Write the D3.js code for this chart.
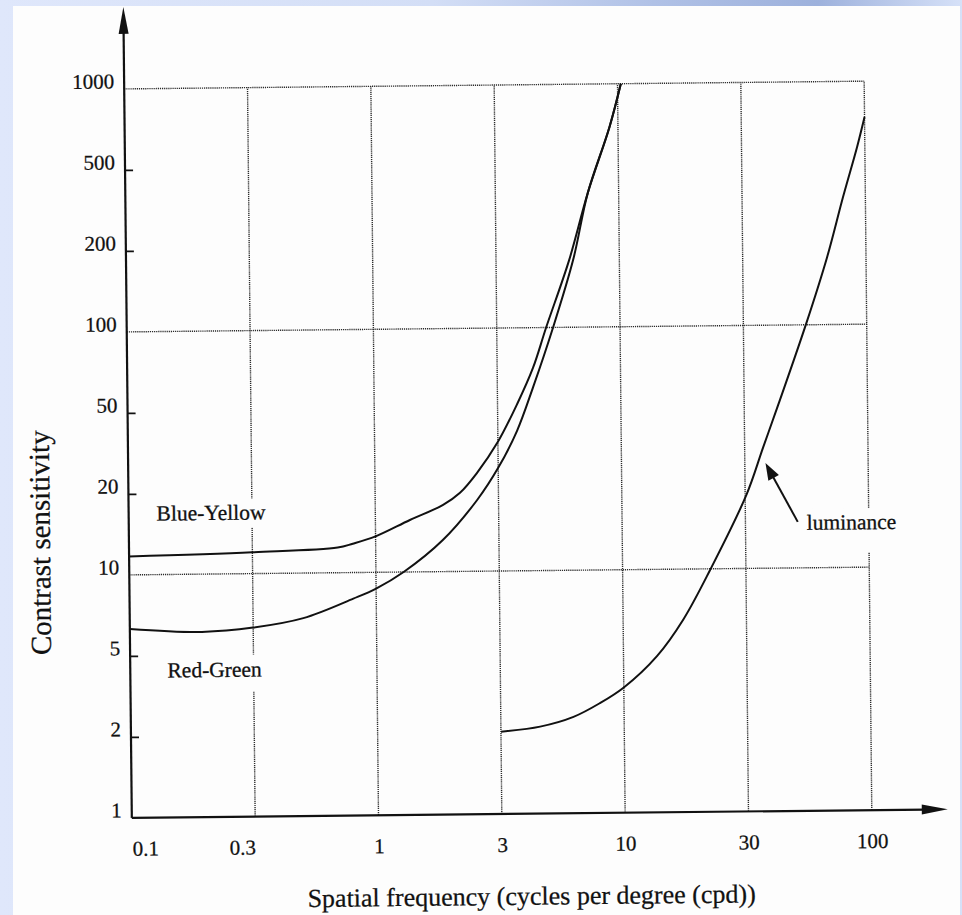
<!DOCTYPE html>
<html><head><meta charset="utf-8">
<script src="https://cdn.jsdelivr.net/npm/d3@7"></script>
<style>html,body{margin:0;padding:0;background:#fff;} svg{display:block;}</style>
</head><body>
<svg id="chart" width="962" height="915"></svg>
<script>
// ---------- data ----------
const xTicks = [0.1, 0.3, 1, 3, 10, 30, 100];
const xTickLabels = ["0.1", "0.3", "1", "3", "10", "30", "100"];
const yTicks = [1, 2, 5, 10, 20, 50, 100, 200, 500, 1000];
const yTickLabels = ["1", "2", "5", "10", "20", "50", "100", "200", "500", "1000"];
const yGridValues = [10, 100, 1000];
const xGridValues = [0.3, 1, 3, 10, 30, 100];

const freqBY = [0.1, 0.3, 0.69, 0.8, 1.0, 1.36, 1.83, 2.13, 2.48, 3.0, 3.63, 4.26, 4.86, 6.13, 7.4, 9.2, 10.3];
const sensBY = [11.7, 12.0, 12.4, 12.8, 13.6, 15.6, 17.7, 19.6, 24.3, 34.5, 52, 71, 100, 178, 365, 690, 1000];

const freqRG = [0.1, 0.19, 0.3, 0.49, 0.8, 1.0, 1.28, 1.82, 2.48, 3.0, 3.62, 4.25, 5.2, 6.37, 7.4, 9.2, 10.3];
const sensRG = [6.3, 6.1, 6.3, 6.8, 8.0, 8.7, 10, 13.1, 18.4, 25.7, 39, 60, 100, 178, 365, 690, 1000];

const freqLum = [3.0, 4.4, 6.1, 7.9, 10, 13.5, 17.1, 21.8, 30.4, 35.9, 41.8, 55.4, 68.4, 80.4, 92.7, 100];
const sensLum = [2.03, 2.14, 2.38, 2.77, 3.3, 4.7, 6.5, 9.9, 18.8, 31.3, 50.5, 101, 178, 338, 570, 736];

const seriesLabels = ["Blue-Yellow", "Red-Green", "luminance"];
const xTitle = "Spatial frequency (cycles per degree (cpd))";
const yTitle = "Contrast sensitivity";

// ---------- layout ----------
const W = 962, H = 915;
const plotLeft = 128, plotRight = 868, plotBottom = 814, plotTop = 85;
const serif = "'Liberation Serif', 'Times New Roman', Times, serif";
const ink = "#111";

const svg = d3.select("#chart");
const defs = svg.append("defs");
const grad = defs.append("linearGradient").attr("id", "bgGrad")
  .attr("x1", "0").attr("x2", "1").attr("y1", "0").attr("y2", "0");
[[0, "#dfe7fb"], [0.45, "#d3def6"], [0.68, "#b0c1e6"], [0.85, "#9db1dc"], [1, "#d6e1f8"]]
  .forEach(([o, c]) => grad.append("stop").attr("offset", o).attr("stop-color", c));
svg.append("rect").attr("width", W).attr("height", H).attr("fill", "url(#bgGrad)");
svg.append("rect").attr("x", 13).attr("y", 6).attr("width", 947).attr("height", H - 6).attr("fill", "#fdfdfd");

// piecewise log scales (equal spacing between the labelled ticks, as in the figure)
const x = d3.scaleLog().domain(xTicks)
  .range(xTicks.map((d, i) => plotLeft + i * (plotRight - plotLeft) / (xTicks.length - 1)));
const y = d3.scaleLog().domain(yTicks)
  .range(yTicks.map((d, i) => plotBottom - i * (plotBottom - plotTop) / (yTicks.length - 1)));

const g = svg.append("g").attr("transform", "rotate(-0.6,500,450)");

// ---------- grid ----------
const grid = g.append("g").attr("stroke", "#2a2a2a").attr("stroke-width", 1.4)
  .attr("stroke-dasharray", "1.2,0.9");
grid.selectAll("line.h").data(yGridValues).join("line").attr("class", "h")
  .attr("x1", x(0.1)).attr("x2", x(100)).attr("y1", d => y(d)).attr("y2", d => y(d));
grid.selectAll("line.v").data(xGridValues).join("line").attr("class", "v")
  .attr("x1", d => x(d)).attr("x2", d => x(d)).attr("y1", y(1)).attr("y2", y(1000));

// ---------- series labels (with paper-coloured backing that breaks the grid) ----------
const labelSpecs = [
  { text: seriesLabels[0], x: x(0.3) - 41, y: 517, anchor: "middle", padT: 6, padB: 8 },
  { text: seriesLabels[1], x: x(0.3) - 39, y: 674, anchor: "middle", padT: 7, padB: 15 },
  { text: seriesLabels[2], x: 806, y: 533, anchor: "start", padT: 6, padB: 23 }
];
const lab = g.append("g");
labelSpecs.forEach(s => {
  const bgR = lab.append("rect").attr("fill", "#fdfdfd");
  const t = lab.append("text").attr("x", s.x).attr("y", s.y).attr("text-anchor", s.anchor)
    .attr("font-family", serif).attr("font-size", 21.5).attr("fill", ink)
    .attr("stroke", ink).attr("stroke-width", 0.3).text(s.text);
  const b = t.node().getBBox();
  bgR.attr("x", b.x - 2).attr("width", b.width + 4)
     .attr("y", s.y - 15 - s.padT).attr("height", 15 + s.padT + s.padB);
});

// ---------- curves ----------
const line = d3.line().x(d => x(d[0])).y(d => y(d[1])).curve(d3.curveCatmullRom.alpha(0.5));
const curves = [
  d3.zip(freqBY, sensBY),
  d3.zip(freqRG, sensRG),
  d3.zip(freqLum, sensLum)
];
g.append("g").selectAll("path").data(curves).join("path")
  .attr("d", line).attr("fill", "none").attr("stroke", ink).attr("stroke-width", 2)
  .attr("stroke-linejoin", "round");

// luminance pointer arrow
const tip = [x(36.7), y(26.3)], tail = [797, 525];
g.append("line").attr("x1", tail[0]).attr("y1", tail[1])
  .attr("x2", tip[0] + (tail[0] - tip[0]) * 0.22).attr("y2", tip[1] + (tail[1] - tip[1]) * 0.22)
  .attr("stroke", ink).attr("stroke-width", 2);
{
  const ang = Math.atan2(tail[1] - tip[1], tail[0] - tip[0]);
  const L = 17, Wd = 6;
  const bx = tip[0] + L * Math.cos(ang), by = tip[1] + L * Math.sin(ang);
  const px = -Math.sin(ang) * Wd, py = Math.cos(ang) * Wd;
  g.append("polygon").attr("points",
    `${tip[0]},${tip[1]} ${bx + px},${by + py} ${bx - px},${by - py}`).attr("fill", ink);
}

// ---------- axes ----------
const yAxis = d3.axisLeft(y).tickValues(yTicks).tickFormat((d, i) => yTickLabels[i])
  .tickSize(-8).tickPadding(10);
const ya = g.append("g").attr("transform", `translate(${plotLeft},0)`).call(yAxis);
ya.select(".domain").remove();
ya.attr("font-family", serif).attr("font-size", 21);
ya.selectAll(".tick line").filter(d => yGridValues.includes(d) || d === 1).remove();
ya.selectAll(".tick line").attr("stroke", ink).attr("stroke-width", 1.8);
ya.selectAll(".tick text").attr("fill", ink).attr("stroke", ink).attr("stroke-width", 0.25)
  .attr("dy", "-0.05em");

const xAxis = d3.axisBottom(x).tickValues(xTicks).tickFormat((d, i) => xTickLabels[i])
  .tickSize(0).tickPadding(23);
const xa = g.append("g").attr("transform", `translate(0,${plotBottom})`).call(xAxis);
xa.select(".domain").remove();
xa.attr("font-family", serif).attr("font-size", 21);
xa.selectAll(".tick text").attr("fill", ink).attr("stroke", ink).attr("stroke-width", 0.25)
  .attr("text-anchor", (d, i) => i === 0 ? "start" : (i === 1 ? "end" : "middle"));

// axis lines with arrowheads
g.append("line").attr("x1", plotLeft).attr("y1", plotBottom).attr("x2", plotLeft).attr("y2", 26)
  .attr("stroke", ink).attr("stroke-width", 2.2);
g.append("polygon").attr("points", `${plotLeft},3 ${plotLeft - 5},30 ${plotLeft + 5},30`).attr("fill", ink);
g.append("line").attr("x1", plotLeft).attr("y1", plotBottom).attr("x2", 922).attr("y2", plotBottom)
  .attr("stroke", ink).attr("stroke-width", 2.2);
g.append("polygon").attr("points", `944,${plotBottom} 918,${plotBottom - 5} 918,${plotBottom + 5}`).attr("fill", ink);

// titles
g.append("text").attr("x", 527).attr("y", 905).attr("text-anchor", "middle")
  .attr("font-family", serif).attr("font-size", 26).attr("fill", ink)
  .attr("stroke", ink).attr("stroke-width", 0.25).text(xTitle);
g.append("text").attr("transform", "translate(49,538) rotate(-90)").attr("text-anchor", "middle")
  .attr("font-family", serif).attr("font-size", 29).attr("fill", ink)
  .attr("stroke", ink).attr("stroke-width", 0.25).text(yTitle);
</script>
</body></html>
